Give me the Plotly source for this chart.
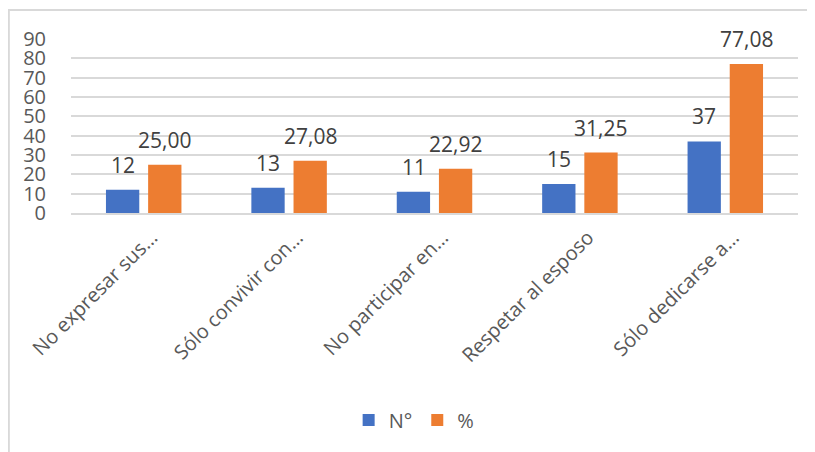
import plotly.graph_objects as go

categories = ["No expresar sus…", "Sólo convivir con…", "No participar en…",
              "Respetar al esposo", "Sólo dedicarse a…"]
n_values = [12, 13, 11, 15, 37]
pct_values = [25.00, 27.08, 22.92, 31.25, 77.08]
y_ticks = [0, 10, 20, 30, 40, 50, 60, 70, 80, 90]

BLUE = "#4472C4"
ORANGE = "#ED7D31"
FONT = "Open Sans"

fig = go.Figure()
fig.add_trace(go.Bar(name="N°", x=categories, y=n_values, marker_color=BLUE,
                     marker_line_width=0))
fig.add_trace(go.Bar(name="%", x=categories, y=pct_values, marker_color=ORANGE,
                     marker_line_width=0))

def fmt_n(v):
    return str(v)

def fmt_p(v):
    return f"{v:.2f}".replace(".", ",")

annotations = []
for i, c in enumerate(categories):
    annotations.append(dict(x=c, y=n_values[i], xref="x", yref="y", text=fmt_n(n_values[i]),
                            showarrow=False, yanchor="middle", yshift=25, xshift=-21,
                            font=dict(family=FONT, size=21, color="#404040")))
    annotations.append(dict(x=c, y=pct_values[i], xref="x", yref="y", text=fmt_p(pct_values[i]),
                            showarrow=False, yanchor="middle", yshift=25, xshift=21,
                            font=dict(family=FONT, size=21, color="#404040")))

fig.update_layout(
    width=815, height=452,
    margin=dict(l=63, r=25, t=31, b=247, autoexpand=False),
    paper_bgcolor="white", plot_bgcolor="white",
    barmode="group", bargap=0.42, bargroupgap=0.21,
    font=dict(family=FONT, color="#595959"),
    showlegend=True,
    legend=dict(orientation="h", x=0.472, xanchor="center", y=-1.19, yanchor="middle",
                font=dict(family=FONT, size=20, color="#595959"),
                itemwidth=30, traceorder="normal"),
    annotations=annotations,
    shapes=[dict(type="rect", xref="paper", yref="paper",
                 x0=-0.0855, x1=1.2, y0=-1.5, y1=1.167,
                 line=dict(color="#D9D9D9", width=2), fillcolor="rgba(0,0,0,0)",
                 layer="below")],
)
fig.update_xaxes(tickangle=-45, tickfont=dict(family=FONT, size=20, color="#595959"),
                 showline=True, linecolor="#D9D9D9", linewidth=2, ticks="",
                 showgrid=False, automargin=False, ticklabelshift=8, ticklabelstandoff=3)
fig.update_yaxes(range=[0, 90], tickvals=y_ticks, ticktext=[str(t) for t in y_ticks],
                 tickfont=dict(family=FONT, size=20, color="#595959"),
                 showgrid=True, gridcolor="#D9D9D9", gridwidth=1.5,
                 zeroline=False, showline=False, ticks="", ticklabelstandoff=24,
                 automargin=False)

fig.write_html("out.html")
